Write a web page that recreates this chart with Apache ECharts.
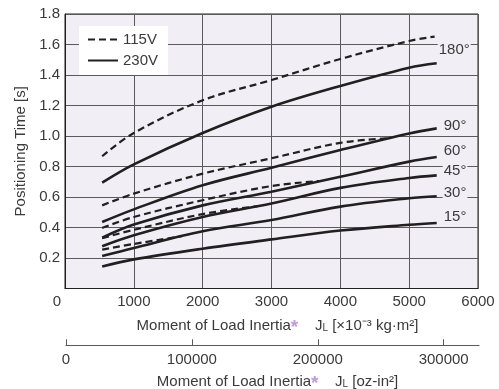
<!DOCTYPE html>
<html>
<head>
<meta charset="utf-8">
<script src="https://cdn.jsdelivr.net/npm/echarts@6/dist/echarts.min.js"></script>
<style>
  html, body { margin: 0; padding: 0; background: #fff; }
  #chart { width: 499px; height: 389px; }
</style>
</head>
<body>
<div id="chart"></div>
<script>
  // inertia values [x10^-3 kg.m2] where the curves were read
  var xFull = [540, 1000, 2000, 3000, 4000, 5000, 5400];
  var x115_180 = [540, 1000, 2000, 3000, 4000, 5000, 5370];
  var x115_90 = [540, 1000, 2000, 3000, 4000, 4700];
  var x115_60 = [540, 1000, 2000, 3000, 3700];
  var x115_45 = [540, 1000, 2000, 2800];
  var x115_30 = [540, 1000, 1700];

  // 230V (solid)
  var t230_180 = [0.694, 0.814, 1.02, 1.192, 1.328, 1.448, 1.477];
  var t230_90 = [0.436, 0.519, 0.677, 0.792, 0.908, 1.017, 1.05];
  var t230_60 = [0.333, 0.419, 0.545, 0.635, 0.733, 0.832, 0.862];
  var t230_45 = [0.277, 0.349, 0.469, 0.558, 0.66, 0.725, 0.742];
  var t230_30 = [0.213, 0.266, 0.375, 0.449, 0.537, 0.592, 0.605];
  var t230_15 = [0.145, 0.191, 0.261, 0.322, 0.38, 0.418, 0.43];

  // 115V (dashed)
  var t115_180 = [0.867, 1.02, 1.234, 1.367, 1.505, 1.623, 1.652];
  var t115_90 = [0.545, 0.622, 0.753, 0.854, 0.955, 0.986];
  var t115_60 = [0.397, 0.469, 0.579, 0.672, 0.705];
  var t115_45 = [0.33, 0.385, 0.488, 0.54];
  var t115_30 = [0.255, 0.292, 0.343];

  var angleLabels = ['180°', '90°', '60°', '45°', '30°', '15°'];
  var yTicks = [0, 1.8, 0.2];
  var xTicks = [0, 6000, 1000];
  var ozTicks = [0, 100000, 200000, 300000];
  var ozMax = 328048; // 6 kg.m2 in oz-in2

  var PLOT_BG = '#f2eef6';
  var INK = '#231f20';
  var TXT = '#3a3a3a';
  var FONT = "'Liberation Sans', Arial, sans-serif";
  var FS = 15;

  function pairs(xs, ys) {
    return xs.map(function (x, i) { return [x, ys[i]]; });
  }

  var solids = [t230_180, t230_90, t230_60, t230_45, t230_30, t230_15];
  var labelOffsets = [[1, -13], [6, -3], [6, -6], [6, -4], [6, -3], [6, -6]];
  var dashed = [
    [x115_180, t115_180], [x115_90, t115_90], [x115_60, t115_60],
    [x115_45, t115_45], [x115_30, t115_30]
  ];

  var series = [];
  dashed.forEach(function (d) {
    series.push({
      name: '115V',
      type: 'line',
      smooth: 0.35,
      symbol: 'none',
      silent: true,
      itemStyle: { color: INK },
      lineStyle: { color: INK, width: 2.2, type: [7, 4] },
      data: pairs(d[0], d[1])
    });
  });
  solids.forEach(function (s, i) {
    series.push({
      name: '230V',
      type: 'line',
      smooth: 0.35,
      symbol: 'none',
      silent: true,
      itemStyle: { color: INK },
      lineStyle: { color: INK, width: 2.6, type: 'solid' },
      endLabel: {
        show: true,
        formatter: angleLabels[i],
        offset: labelOffsets[i],
        distance: 0,
        color: TXT,
        fontFamily: FONT,
        fontSize: FS,
        backgroundColor: PLOT_BG,
        padding: [0, 1]
      },
      data: pairs(xFull, s)
    });
  });

  var nameRich = {
    a: { color: '#c29ad6', fontSize: 19, fontWeight: 'bold', padding: [4, 0, 0, 0] },
    j: { color: TXT, fontSize: FS },
    s: { color: TXT, fontSize: 10, padding: [5, 0, 0, 0] }
  };

  var myChart = echarts.init(document.getElementById('chart'));
  var option = {
    backgroundColor: '#fff',
    animation: false,
    textStyle: { fontFamily: FONT },
    legend: {
      data: ['115V', '230V'],
      orient: 'vertical',
      left: 79,
      top: 26,
      padding: [6, 10, 7, 8],
      itemWidth: 30,
      itemHeight: 15,
      itemGap: 6,
      backgroundColor: '#fff',
      selectedMode: false,
      itemStyle: { opacity: 0 },
      textStyle: { color: TXT, fontSize: FS, fontFamily: FONT }
    },
    grid: [{
      left: 65, right: 21, top: 14, bottom: 100.5,
      show: true,
      backgroundColor: PLOT_BG,
      borderColor: INK,
      borderWidth: 1
    }, {
      left: 66, right: 20, top: 345, height: 1
    }],
    xAxis: [{
      type: 'value',
      gridIndex: 0,
      min: xTicks[0], max: xTicks[1], interval: xTicks[2],
      axisLine: { show: true, lineStyle: { color: INK } },
      axisTick: { show: false },
      splitLine: { show: true, lineStyle: { color: '#5a5a5a', width: 1 } },
      axisLabel: {
        color: TXT, fontSize: FS, margin: 6,
        formatter: function (v) { return v === 0 ? '{z|0}' : String(v); },
        rich: { z: { fontSize: FS, color: TXT, padding: [0, 16, 0, 0] } }
      },
      name: 'Moment of Load Inertia{a|*}    {j|J}{s|L} [×10⁻³ kg·m²]',
      nameLocation: 'middle',
      nameGap: 26,
      nameTextStyle: { color: TXT, fontSize: FS, padding: [0, 0, 0, 12], rich: nameRich }
    }, {
      type: 'value',
      gridIndex: 1,
      position: 'bottom',
      min: 0, max: ozMax,
      axisLine: { show: true, lineStyle: { color: '#5a5a5a', width: 1.2 } },
      axisTick: { show: true, inside: true, length: 6, customValues: ozTicks, lineStyle: { color: '#5a5a5a' } },
      splitLine: { show: false },
      axisLabel: {
        color: TXT, fontSize: FS, margin: 7, customValues: ozTicks,
        formatter: function (v) { return String(v); }
      },
      name: 'Moment of Load Inertia{a|*}    {j|J}{s|L} [oz-in²]',
      nameLocation: 'middle',
      nameGap: 25,
      nameTextStyle: { color: TXT, fontSize: FS, padding: [0, 0, 0, 10], rich: nameRich }
    }],
    yAxis: [{
      type: 'value',
      gridIndex: 0,
      min: yTicks[0], max: yTicks[1], interval: yTicks[2],
      axisLine: { show: true, lineStyle: { color: INK } },
      axisTick: { show: false },
      splitLine: { show: true, lineStyle: { color: '#5a5a5a', width: 1 } },
      axisLabel: {
        color: TXT, fontSize: FS, margin: 5, showMinLabel: false,
        formatter: function (v) { return v.toFixed(1); }
      },
      name: 'Positioning Time [s]',
      nameLocation: 'middle',
      nameGap: 31,
      nameTextStyle: { color: TXT, fontSize: FS }
    }, {
      type: 'value',
      gridIndex: 1,
      show: false
    }],
    series: series
  };
  myChart.setOption(option);
</script>
</body>
</html>
